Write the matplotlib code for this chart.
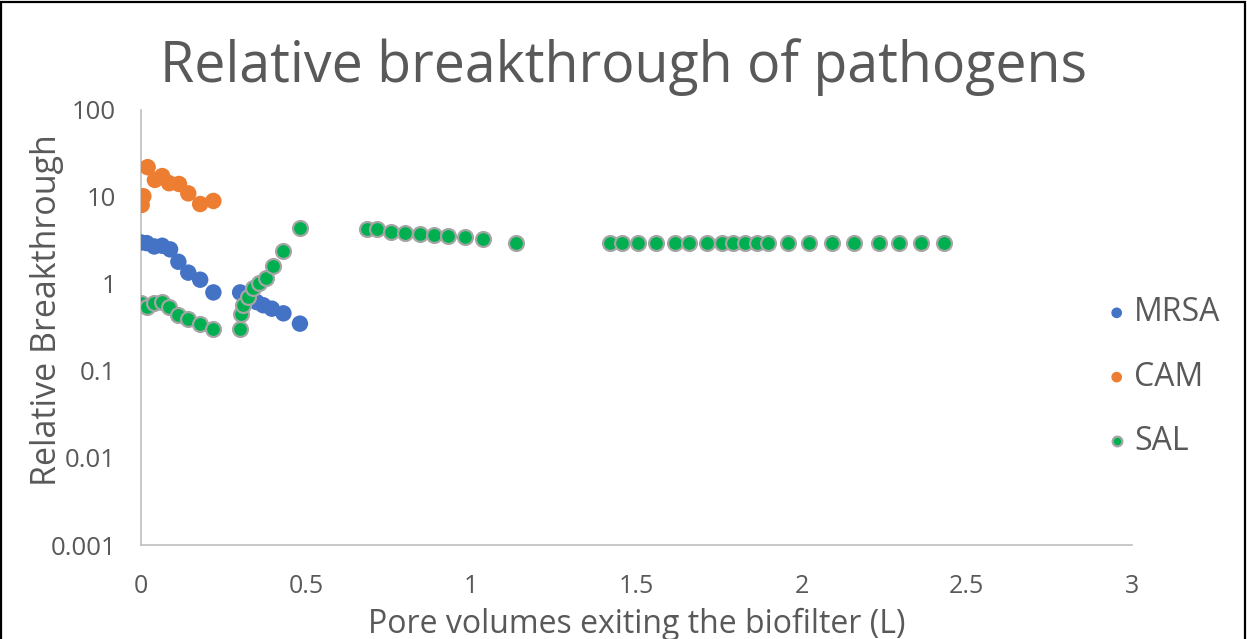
import matplotlib
matplotlib.use("Agg")
import matplotlib.pyplot as plt
from matplotlib.patches import Rectangle
from matplotlib.ticker import FixedLocator, FixedFormatter, NullLocator

# Pore volumes (L) and relative breakthrough for each pathogen
mrsa_x = [0.000, 0.017, 0.040, 0.064, 0.088, 0.113, 0.143, 0.179, 0.219,
          0.300, 0.330, 0.350, 0.370, 0.396, 0.431, 0.481]
mrsa_y = [3.0, 2.95, 2.7, 2.75, 2.5, 1.8, 1.35, 1.12, 0.8,
          0.8, 0.7, 0.62, 0.57, 0.52, 0.46, 0.35]

cam_x = [0.002, 0.007, 0.020, 0.042, 0.064, 0.085, 0.115, 0.143, 0.179, 0.219]
cam_y = [8.1, 10.2, 22.0, 15.7, 17.4, 14.4, 14.1, 11.0, 8.3, 9.0]

sal_x = [0.000, 0.017, 0.040, 0.062, 0.085, 0.113, 0.141, 0.179, 0.219,
         0.300, 0.302, 0.310, 0.325, 0.340, 0.358, 0.378, 0.399, 0.431, 0.481,
         0.685, 0.715, 0.756, 0.799, 0.845, 0.887, 0.930, 0.981, 1.034, 1.134,
         1.420, 1.455, 1.503, 1.558, 1.615, 1.660, 1.713, 1.758, 1.793, 1.829,
         1.864, 1.899, 1.960, 2.023, 2.093, 2.159, 2.235, 2.295, 2.361, 2.431]
sal_y = [0.60, 0.55, 0.60, 0.62, 0.55, 0.44, 0.40, 0.35, 0.30,
         0.30, 0.45, 0.57, 0.71, 0.89, 1.02, 1.18, 1.61, 2.39, 4.40,
         4.25, 4.25, 3.99, 3.89, 3.76, 3.66, 3.56, 3.44, 3.26, 2.98,
         2.95, 2.95, 2.95, 2.95, 2.95, 2.95, 2.95, 2.95, 2.95, 2.95,
         2.95, 2.95, 2.95, 2.95, 2.95, 2.95, 2.95, 2.95, 2.95, 2.95]

x_ticks = [0, 0.5, 1, 1.5, 2, 2.5, 3]
x_tick_labels = ["0", "0.5", "1", "1.5", "2", "2.5", "3"]
y_ticks = [0.001, 0.01, 0.1, 1, 10, 100]
y_tick_labels = ["0.001", "0.01", "0.1", "1", "10", "100"]

TEXT = "#595959"
SPINE = "#BFBFBF"
FONT = ["Open Sans", "DejaVu Sans"]

plt.rcParams["font.family"] = FONT

fig = plt.figure(figsize=(12.47, 6.39), dpi=100)
ax = fig.add_axes([0.1131, 0.1471, 0.7947, 0.6808])

ax.scatter(mrsa_x, mrsa_y, s=140, color="#4472C4", edgecolors="none",
           label="MRSA", zorder=3)
ax.scatter(cam_x, cam_y, s=140, color="#ED7D31", edgecolors="none",
           label="CAM", zorder=3)
ax.scatter(sal_x, sal_y, s=115, color="#00B050", edgecolors="#A5A5A5",
           linewidths=1.6, label="SAL", zorder=4)

ax.set_yscale("log")
ax.set_xlim(0, 3)
ax.set_ylim(0.001, 100)

ax.xaxis.set_major_locator(FixedLocator(x_ticks))
ax.xaxis.set_major_formatter(FixedFormatter(x_tick_labels))
ax.yaxis.set_major_locator(FixedLocator(y_ticks))
ax.yaxis.set_major_formatter(FixedFormatter(y_tick_labels))
ax.yaxis.set_minor_locator(NullLocator())
ax.tick_params(axis="both", length=0, colors=TEXT)
ax.tick_params(axis="x", labelsize=18, pad=21)
ax.tick_params(axis="y", labelsize=18.5, pad=18)

for side in ("top", "right"):
    ax.spines[side].set_visible(False)
for side in ("left", "bottom"):
    ax.spines[side].set_color(SPINE)
    ax.spines[side].set_linewidth(1.2)

ax.set_xlabel("Pore volumes exiting the biofilter (L)", fontsize=23,
              color=TEXT, labelpad=6)
ax.set_ylabel("Relative Breakthrough", fontsize=24.5, color=TEXT)
ax.yaxis.set_label_coords(-0.078, 0.54)

fig.suptitle("Relative breakthrough of pathogens", fontsize=40, color=TEXT,
             x=0.5, y=0.94)

leg = fig.legend(loc="center left", bbox_to_anchor=(0.875, 0.41),
                 frameon=False, fontsize=23, labelspacing=0.98,
                 handlelength=0.8, handletextpad=0.15, markerscale=0.65,
                 labelcolor=TEXT, borderaxespad=0.0)

# Chart-area border
fig.patches.append(Rectangle((0.001, -0.05), 0.997, 1.047,
                             transform=fig.transFigure, fill=False,
                             edgecolor="black", linewidth=1.6, zorder=10))

fig.savefig("out.png", dpi=100, facecolor="white")
